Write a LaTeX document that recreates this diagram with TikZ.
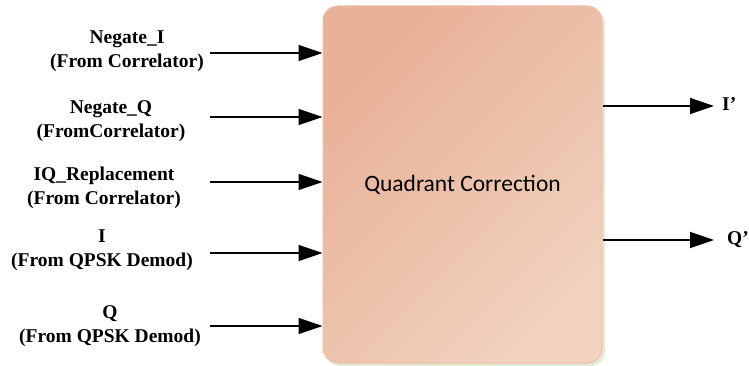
\documentclass[tikz,border=0pt]{standalone}
\usepackage{fontspec}
\setmainfont{Liberation Serif}
\newfontfamily\carl{Carlito}
\usetikzlibrary{arrows.meta,shadows}
\definecolor{boxA}{RGB}{232,176,150}
\definecolor{boxB}{RGB}{241,210,190}
\definecolor{boxEdge}{RGB}{243,190,168}
\definecolor{shadowG}{RGB}{226,236,212}
\tikzset{
  lbl/.style={align=center,inner sep=0pt,font=\fontsize{19.5}{24}\selectfont\bfseries},
  outlbl/.style={anchor=west,inner sep=0pt,font=\fontsize{19.5}{24}\selectfont\bfseries},
  sig/.style={line width=1.5pt,-{Triangle[length=24pt,width=16pt]}},
  qbox/.style={rectangle,rounded corners=15pt,minimum width=279pt,minimum height=357pt,
    draw=boxEdge,line width=1pt,top color=boxA,bottom color=boxB,shading angle=45,
    general shadow={fill=shadowG,shadow xshift=3pt,shadow yshift=-3pt},
    font=\carl\fontsize{23.5}{28}\selectfont,text=black}
}
\begin{document}
\begin{tikzpicture}[x=1pt,y=-1pt]
\useasboundingbox (0,0) rectangle (749,366);
\node[qbox] (qc) at (462.5,184.5) {Quadrant Correction};
% input labels
\node[lbl] (ni) at (127,51) {Negate\_I\\(From Correlator)};
\node[lbl] (nq) at (111,121) {Negate\_Q\\(FromCorrelator)};
\node[lbl] (iq) at (104,188) {IQ\_Replacement\\(From Correlator)};
\node[lbl] (ii) at (102,250) {I\\(From QPSK Demod)};
\node[lbl] (qq) at (110,326) {Q\\(From QPSK Demod)};
% input start coordinates
\coordinate (s1) at (210,53);
\coordinate (s2) at (210,117);
\coordinate (s3) at (210,182);
\coordinate (s4) at (210,253);
\coordinate (s5) at (210,326);
\draw[sig] (s1) -- (s1 -| qc.west);
\draw[sig] (s2) -- (s2 -| qc.west);
\draw[sig] (s3) -- (s3 -| qc.west);
\draw[sig] (s4) -- (s4 -| qc.west);
\draw[sig] (s5) -- (s5 -| qc.west);
% outputs
\node[outlbl] (io) at (722,104) {I'};
\node[outlbl] (qo) at (727,240) {Q'};
\coordinate (e1) at (714,106);
\coordinate (e2) at (714,240);
\draw[sig] (e1 -| qc.east) -- (e1);
\draw[sig] (e2 -| qc.east) -- (e2);
\end{tikzpicture}
\end{document}
